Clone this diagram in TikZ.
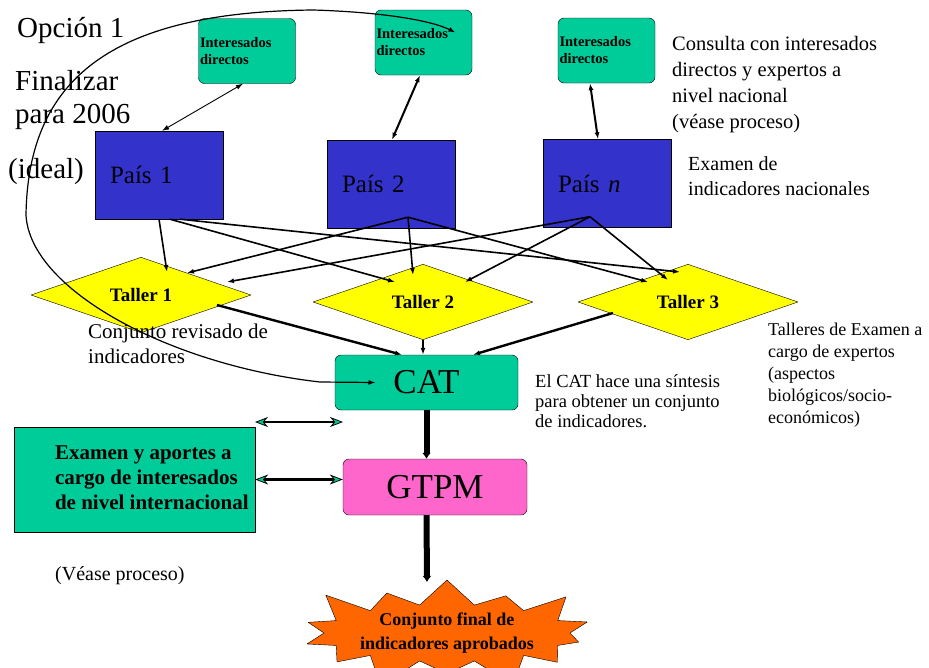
\documentclass[tikz,border=0pt]{standalone}
\usepackage{fontspec}
\setmainfont{Liberation Serif}
\usetikzlibrary{positioning,calc,shapes.geometric,shapes.symbols,arrows.meta}
\definecolor{intgreen}{RGB}{0,204,153}
\definecolor{paisblue}{RGB}{51,51,204}
\definecolor{talleryellow}{RGB}{255,255,0}
\definecolor{gtpmpink}{RGB}{255,102,204}
\definecolor{finalorange}{RGB}{255,102,0}

\begin{document}
\begin{tikzpicture}[x=1pt,y=-1pt,>={Latex[length=7pt,width=5pt]},line join=bevel,
  intbox/.style={draw,fill=intgreen,rounded corners=6pt,minimum width=97pt,minimum height=65pt,
    inner sep=1pt,text width=94pt,align=left,font=\fontsize{14.5}{17}\selectfont\bfseries},
  paisbox/.style={draw,fill=paisblue,minimum width=128pt,minimum height=88pt,inner sep=0pt,
    text width=98pt,align=left,font=\fontsize{25}{30}\selectfont},
  tallerdia/.style={draw,fill=talleryellow,diamond,minimum width=220pt,minimum height=55pt,
    inner sep=0pt,font=\fontsize{19}{22}\selectfont\bfseries},
  catbox/.style={draw,fill=intgreen,rounded corners=6pt,minimum width=183pt,minimum height=55pt,
    font=\fontsize{35}{40}\selectfont},
  gtpmbox/.style={draw,fill=gtpmpink,rounded corners=6pt,minimum width=184pt,minimum height=56pt,
    font=\fontsize{35}{40}\selectfont},
  exambox/.style={draw,fill=intgreen,minimum width=241pt,minimum height=105pt},
  examtext/.style={inner sep=0pt,align=left,font=\fontsize{21}{25}\selectfont\bfseries},
  finalstar/.style={starburst,starburst points=14,starburst point height=34pt,draw,fill=finalorange,
    minimum width=295pt,minimum height=100pt,inner sep=0pt,align=center,
    font=\fontsize{18}{24}\selectfont\bfseries},
  note/.style={anchor=base west,inner sep=0pt,align=left},
  tiedge/.style={->,line width=1.6pt},
  dbl/.style={{Stealth[fill=intgreen,line width=0.8pt,length=13pt,width=10pt]}-{Stealth[fill=intgreen,line width=0.8pt,length=13pt,width=10pt]},line width=2.4pt},
  thick arrow/.style={-{Latex[length=6pt,width=9pt]},line width=6pt}]
\useasboundingbox (0,0) rectangle (929,667);
%%
  % Node: Int1
  \node[intbox] (Int1) at (247,51) {Interesados\\directos};
  % Node: Int2
  \node[intbox] (Int2) at (423.5,42.5) {Interesados\\directos};
  % Node: Int3
  \node[intbox] (Int3) at (606.5,50.5) {Interesados\\directos};
  % Node: P1
  \node[paisbox] (P1) at (159,175) {País 1};
  % Node: P2
  \node[paisbox] (P2) at (391,184) {País 2};
  % Node: Pn
  \node[paisbox] (Pn) at (607,183.5) {País \textit{n}};
  % Node: T1
  \node[tallerdia] (T1) at (141,295) {Taller 1};
  % Node: T2
  \node[tallerdia] (T2) at (423,302) {Taller 2};
  % Node: T3
  \node[tallerdia] (T3) at (688,302) {Taller 3};
  % Node: CAT
  \node[catbox] (CAT) at (426.5,382.5) {CAT};
  % Node: GTPM
  \node[gtpmbox] (GTPM) at (435,487) {GTPM};
  % Node: Exam
  \node[exambox] (Exam) at (134.5,479.5) {};
  \node[examtext,anchor=west] (ExamTxt) at ([xshift=41pt,yshift=2pt]Exam.west)
    {Examen y aportes a\\cargo de interesados\\de nivel internacional};
  % Node: Final
  \node[finalstar] (Final) at (447,633) {Conjunto final de\\indicadores aprobados};
  \coordinate (FinalTop) at (427,582);
  \coordinate (FreeL) at (255,422);
  \coordinate (FreeR) at (343,422);
%%
  % Texts (base = last line)
  \node[note,font=\fontsize{29}{34}\selectfont] (Opcion) at (17,37) {Opción 1};
  \node[note,font=\fontsize{29}{34}\selectfont] (Finalizar) at (15,90) {Finalizar};
  \node[note,font=\fontsize{29}{34}\selectfont] (Para) at (15,123) {para 2006};
  \node[note,font=\fontsize{29}{34}\selectfont] (Ideal) at (8,178) {(ideal)};
  \node[note,font=\fontsize{20.5}{26}\selectfont] (Consulta) at (672,128)
    {Consulta con interesados\\directos y expertos a\\nivel nacional\\(véase proceso)};
  \node[note,font=\fontsize{20}{25}\selectfont] (ExamNac) at (688,195)
    {Examen de\\indicadores nacionales};
  \node[note,font=\fontsize{21}{25}\selectfont] (Revisado) at (88,363)
    {Conjunto revisado de\\indicadores};
  \node[note,font=\fontsize{18.5}{20}\selectfont] (Sintesis) at (535,427)
    {El CAT hace una síntesis\\para obtener un conjunto\\de indicadores.};
  \node[note,font=\fontsize{18}{22}\selectfont] (TallTxt) at (768,423)
    {Talleres de Examen a\\cargo de expertos\\(aspectos\\biológicos/socio-\\económicos)};
  \node[note,font=\fontsize{20}{24}\selectfont] (Vease) at (55,580) {(Véase proceso)};
%%
  % Edge: Int1 <-> P1
  \draw[<->,line width=0.9pt] ([xshift=-4pt]Int1.south) -- ([xshift=3pt]P1.north);
  % Edge: Int2 <-> P2
  \draw[<->,line width=2pt] ([xshift=-3.5pt]Int2.south) -- ([xshift=1pt]P2.north);
  % Edge: Int3 <-> Pn
  \draw[<->,line width=2pt] ([xshift=-16.5pt]Int3.south) -- ([xshift=-9pt]Pn.north);
  % Edge: P1 -> T1, T2, T3
  \draw[tiedge] (P1.south) -- ($(T1)+(26,-23)$);
  \draw[tiedge] ([xshift=11pt]P1.south) -- ($(T2)+(-28,-20)$);
  \draw[tiedge] ([xshift=21pt]P1.south) -- ($(T3)+(-8,-30)$);
  % Edge: P2 -> T1, T2, T3
  \draw[tiedge] ($(P2.south)+(17,-11)$) -- ($(T1)+(46,-22)$);
  \draw[tiedge] ($(P2.south)+(17,-11)$) -- ($(T2)+(-10,-27)$);
  \draw[tiedge] ($(P2.south)+(17,-11)$) -- ($(T3)+(-40,-20)$);
  % Edge: Pn -> T1, T2, T3
  \draw[tiedge] ($(Pn.south)+(-17,-11)$) -- ($(T1)+(86,-13)$);
  \draw[tiedge] ($(Pn.south)+(-17,-11)$) -- ($(T2)+(42,-20)$);
  \draw[tiedge] ($(Pn.south)+(-17,-11)$) -- ($(T3)+(-20,-22)$);
  % Edge: T1, T2, T3 -> CAT
  \draw[->,line width=2.4pt] ($(T1)+(76,10)$) -- ([xshift=-24.5pt]CAT.north);
  \draw[->,line width=2.4pt] (T2.south) -- (T2.south |- CAT.north);
  \draw[->,line width=2.4pt] ($(T3)+(-75,11)$) -- ([xshift=46.5pt]CAT.north);
  % Edge: CAT -> GTPM -> Final
  \draw[thick arrow] (CAT.south) -- (CAT.south |- GTPM.north);
  \draw[thick arrow] (CAT.south |- GTPM.south) -- (FinalTop);
  % Edge: Exam <-> GTPM
  \draw[dbl] (FreeL) -- (FreeR);
  \draw[dbl] (Exam.east) -- (Exam.east -| GTPM.west);
  % Edge: CAT <-> Int2
  \draw[<->,line width=1.2pt] ($(Int2)+(32,-10)$) .. controls (430,20) and (380,12) .. (313,10)
    .. controls (110,12) and (28,80) .. (26,215)
    .. controls (30,290) and (170,365) .. (320,382) -- ($(CAT)+(-51,0)$);
%
\end{tikzpicture}
\end{document}
